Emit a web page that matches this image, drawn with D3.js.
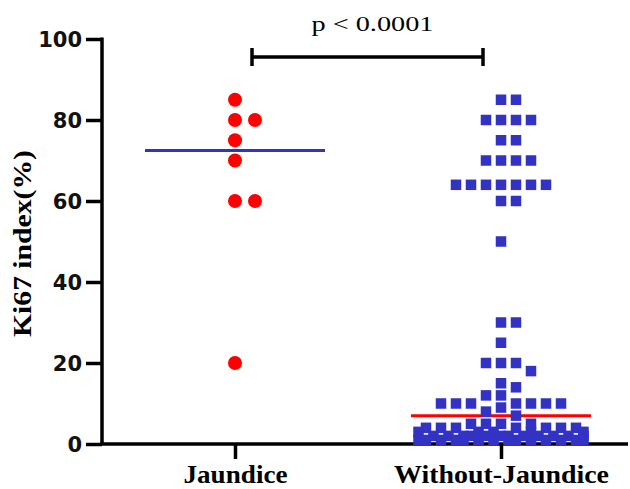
<!DOCTYPE html>
<html>
<head>
<meta charset="utf-8">
<script src="https://cdn.jsdelivr.net/npm/d3@7"></script>
<style>
    body { margin: 0; background: #fff; }
    svg { display: block; }
</style>
</head>
<body>
<script>
(function() {

    // groups and Ki67 values
    var groups = ["Jaundice", "Without-Jaundice"];
    var jaundice = [85, 80, 80, 75, 70, 60, 60, 20];
    var withoutJaundice = [85, 85, 80, 80, 80, 80, 75, 75, 70, 70, 70, 70,
                           64, 64, 64, 64, 64, 64, 64, 60, 60, 50, 30, 30, 25,
                           20, 20, 20, 18, 15, 14, 12, 12,
                           10, 10, 10, 10, 10, 10, 10, 9, 8, 7,
                           5, 5, 5, 5, 4, 4, 4, 4, 4, 4, 4,
                           3, 3, 3, 3, 3,
                           2, 2, 2, 2, 2, 2, 2, 2, 2, 2, 2, 2,
                           1, 1, 1, 1, 1, 1, 1, 1, 1, 1, 1, 1, 1, 1];
    var yTicks = [0, 20, 40, 60, 80, 100];
    var yLabel = "Ki67 index(%)";
    var pLabel = "p < 0.0001";

    var width = 630,
        height = 489,
        axisX = 102,
        axisY = 444,
        serif = "'Liberation Serif', 'Times New Roman', serif",
        blue = "#3232c4",
        red = "#ff0000";

    var svg = d3.select("body").append("svg")
                .attr("width", width)
                .attr("height", height);

    var y = d3.scaleLinear().domain([0, 100]).range([axisY, 39]);
    var x = d3.scalePoint().domain(groups).range([235, 501]);

    // spread the points sideways so that they don't sit on top of each other.
    // top to bottom, try slot 0, +1, -1, +2 ... then squeeze into the least crowded spot
    function swarm(values, cx, step, size, maxK) {
        var placed = [];
        values.slice().sort(d3.descending).forEach(function(v) {
            var py = y(v), px = null, i, k, cand;
            for (i = 0; i <= 2 * maxK; i += 1) {
                k = i === 0 ? 0 : (i % 2 === 1 ? (i + 1) / 2 : -i / 2);
                cand = cx + k * step;
                var hit = placed.some(function(p) {
                    return Math.abs(p.x - cand) < step - 0.5 && Math.abs(p.y - py) < size;
                });
                if (!hit) {
                    px = cand;
                    break;
                }
            }
            if (px === null) {
                var best = Infinity, maxJ = 2 * maxK + 1;
                for (i = 0; i <= 2 * maxJ; i += 1) {
                    k = i === 0 ? 0 : (i % 2 === 1 ? (i + 1) / 2 : -i / 2);
                    cand = cx + k * step / 2;
                    var score = d3.sum(placed, function(p) {
                        return Math.max(0, size - Math.abs(p.x - cand)) * Math.max(0, size - Math.abs(p.y - py));
                    });
                    if (score < best) {
                        best = score;
                        px = cand;
                    }
                }
            }
            placed.push({value: v, x: px, y: py});
        });
        return placed;
    }

    // y axis
    var yAxis = svg.append("g")
                   .attr("transform", "translate(" + axisX + ",0)")
                   .call(d3.axisLeft(y).tickValues(yTicks).tickSize(16).tickSizeOuter(0));

    yAxis.select(".domain")
         .attr("stroke-width", 3.5)
         .attr("d", "M0," + (y(100) - 1.5) + "V" + axisY);
    yAxis.selectAll(".tick line").attr("stroke-width", 3.5);
    yAxis.selectAll(".tick text")
         .attr("x", -20)
         .attr("dy", "0.36em")
         .style("font-family", "'DejaVu Sans', Verdana, sans-serif")
         .style("font-weight", "bold")
         .style("font-size", "21px")
         .attr("fill", "#111");

    // x axis
    var xAxis = svg.append("g")
                   .attr("transform", "translate(0," + axisY + ")")
                   .call(d3.axisBottom(x).tickSize(15).tickSizeOuter(0));

    xAxis.select(".domain").remove();
    xAxis.append("line")
         .attr("x1", axisX - 1.75)
         .attr("x2", 628)
         .attr("stroke", "#000")
         .attr("stroke-width", 3.5);
    xAxis.selectAll(".tick line").attr("stroke-width", 3.5);
    xAxis.selectAll(".tick text")
         .attr("y", 39)
         .attr("dy", 0)
         .attr("textLength", function(d) {return d === groups[0] ? 104 : 215; })
         .attr("lengthAdjust", "spacingAndGlyphs")
         .style("font-family", serif)
         .style("font-weight", "bold")
         .style("font-size", "26px")
         .attr("fill", "#000");

    // y axis title
    svg.append("text")
       .attr("transform", "translate(31," + ((y(0) + y(100)) / 2 + 2) + ") rotate(-90)")
       .attr("text-anchor", "middle")
       .attr("textLength", 187)
       .attr("lengthAdjust", "spacingAndGlyphs")
       .style("font-family", serif)
       .style("font-weight", "bold")
       .style("font-size", "26px")
       .text(yLabel);

    // significance bracket
    var bx1 = 252, bx2 = 483, by = 57;
    var bracket = svg.append("g")
                     .attr("stroke", "#000")
                     .attr("stroke-width", 3.5);
    bracket.append("line").attr("x1", bx1).attr("x2", bx2).attr("y1", by).attr("y2", by);
    bracket.append("line").attr("x1", bx1).attr("x2", bx1).attr("y1", by - 9).attr("y2", by + 9);
    bracket.append("line").attr("x1", bx2).attr("x2", bx2).attr("y1", by - 9).attr("y2", by + 9);

    svg.append("text")
       .attr("x", 372.5)
       .attr("y", 31)
       .attr("text-anchor", "middle")
       .attr("textLength", 122)
       .attr("lengthAdjust", "spacingAndGlyphs")
       .style("font-family", serif)
       .style("font-size", "22px")
       .text(pLabel);

    // medians
    var medians = [
        {group: groups[0], value: d3.median(jaundice), color: blue},
        {group: groups[1], value: d3.median(withoutJaundice), color: red}
    ];
    svg.selectAll(".median")
       .data(medians)
       .enter()
       .append("line")
       .attr("class", "median")
       .attr("x1", function(d) {return x(d.group) - 90; })
       .attr("x2", function(d) {return x(d.group) + 90; })
       .attr("y1", function(d) {return y(d.value); })
       .attr("y2", function(d) {return y(d.value); })
       .attr("stroke", function(d) {return d.color; })
       .attr("stroke-width", 3);

    // jaundice: red dots
    svg.append("g").selectAll("circle")
       .data(swarm(jaundice, x(groups[0]), 20, 14, 4))
       .enter()
       .append("circle")
       .attr("cx", function(d) {return d.x; })
       .attr("cy", function(d) {return d.y; })
       .attr("r", 7)
       .attr("fill", red);

    // without jaundice: blue squares
    var sq = 10.5;
    svg.append("g").selectAll("rect")
       .data(swarm(withoutJaundice, x(groups[1]), 15, sq, 5))
       .enter()
       .append("rect")
       .attr("x", function(d) {return d.x - sq / 2; })
       .attr("y", function(d) {return d.y - sq / 2; })
       .attr("width", sq)
       .attr("height", sq)
       .attr("fill", blue);

})();
</script>
</body>
</html>
